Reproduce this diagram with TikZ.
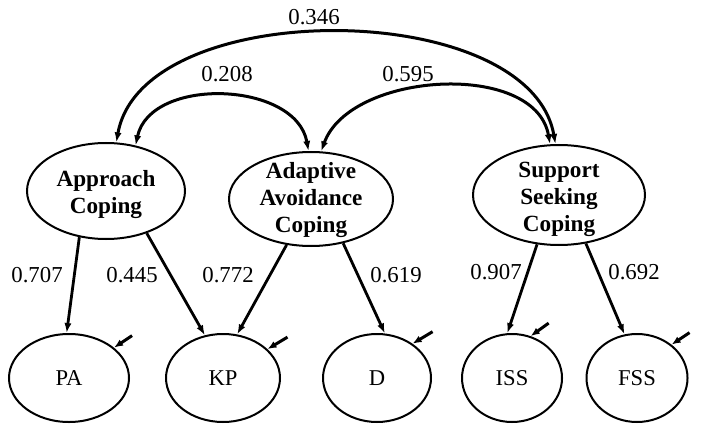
\documentclass[tikz,border=0pt]{standalone}
\usepackage{fontspec}
\setmainfont{Liberation Serif}
\usetikzlibrary{
  arrows.meta,
  shapes.geometric
}
\tikzset{
  latent/.style={draw, ellipse, line width=1pt, inner sep=0pt},
  indicator/.style={draw, ellipse, line width=1pt, inner sep=0pt, minimum height=44pt,
    font=\fontsize{11.3}{13}\selectfont},
  lvtext/.style={font=\fontsize{11.6}{13.5}\selectfont\bfseries, align=center, inner sep=0pt},
  coef/.style={font=\fontsize{11.4}{13}\selectfont, inner sep=1pt},
  loading/.style={-{Latex[length=5pt, width=3.6pt]}, line width=1.4pt},
  covar/.style={{Latex[length=5pt, width=3.6pt]}-{Latex[length=5pt, width=3.6pt]}, line width=1.5pt},
  errarrow/.style={{Latex[length=4.5pt, width=3.6pt]}-, line width=1.5pt}
}
\begin{document}
\begin{tikzpicture}[x=0.5pt, y=-0.5pt]
  \useasboundingbox (0,0) rectangle (704,432);

  \node[latent, minimum width=79pt, minimum height=48pt] (ac) at (106,191) {};
  \node[latent, minimum width=82pt, minimum height=47pt] (aa) at (311,199) {};
  \node[latent, minimum width=86pt, minimum height=50pt] (ss) at (559,195) {};
  \node[lvtext] (ac-txt) at (106,195) {Approach\\Coping};
  \node[lvtext] (aa-txt) at (311,200) {Adaptive\\Avoidance\\Coping};
  \node[lvtext] (ss-txt) at (559,199) {Support\\Seeking\\Coping};

  \node[indicator, minimum width=60pt] (pa) at (69,378) {PA};
  \node[indicator, minimum width=57pt] (kp) at (223,378) {KP};
  \node[indicator, minimum width=54pt] (d) at (377,378) {D};
  \node[indicator, minimum width=50pt] (iss) at (512,378) {ISS};
  \node[indicator, minimum width=50.5pt] (fss) at (637,378) {FSS};

  \draw[loading] (ac.240) -- (pa.93);
  \draw[loading] (ac.314) -- (kp.113);
  \draw[loading] (aa.242) -- (kp.72);
  \draw[loading] (aa.306) -- (d.80);
  \draw[loading] (ss.246) -- (iss.96);
  \draw[loading] (ss.299) -- (fss.106);

  \draw[errarrow] (pa.34) -- ++(18,-12);
  \draw[errarrow] (kp.33) -- ++(20,-12);
  \draw[errarrow] (d.44) -- ++(20,-12);
  \draw[errarrow] (iss.66) -- ++(18,-13);
  \draw[errarrow] (fss.44) -- ++(18,-12);

  \draw[covar] (ac.78) to[out=80, in=100, looseness=0.87] (ss.94);
  \draw[covar] (ac.57) to[out=78, in=100, looseness=1.05] (aa.93);
  \draw[covar] (aa.78) to[out=70, in=100, looseness=0.95] (ss.100);

  \node[coef] (c346) at (314,17) {0.346};
  \node[coef] (c208) at (227,74) {0.208};
  \node[coef] (c595) at (408,74) {0.595};
  \node[coef] (l707) at (37,275) {0.707};
  \node[coef] (l445) at (132,275) {0.445};
  \node[coef] (l772) at (228,275) {0.772};
  \node[coef] (l619) at (396,275) {0.619};
  \node[coef] (l907) at (496,272) {0.907};
  \node[coef] (l692) at (634,272) {0.692};
\end{tikzpicture}
\end{document}
